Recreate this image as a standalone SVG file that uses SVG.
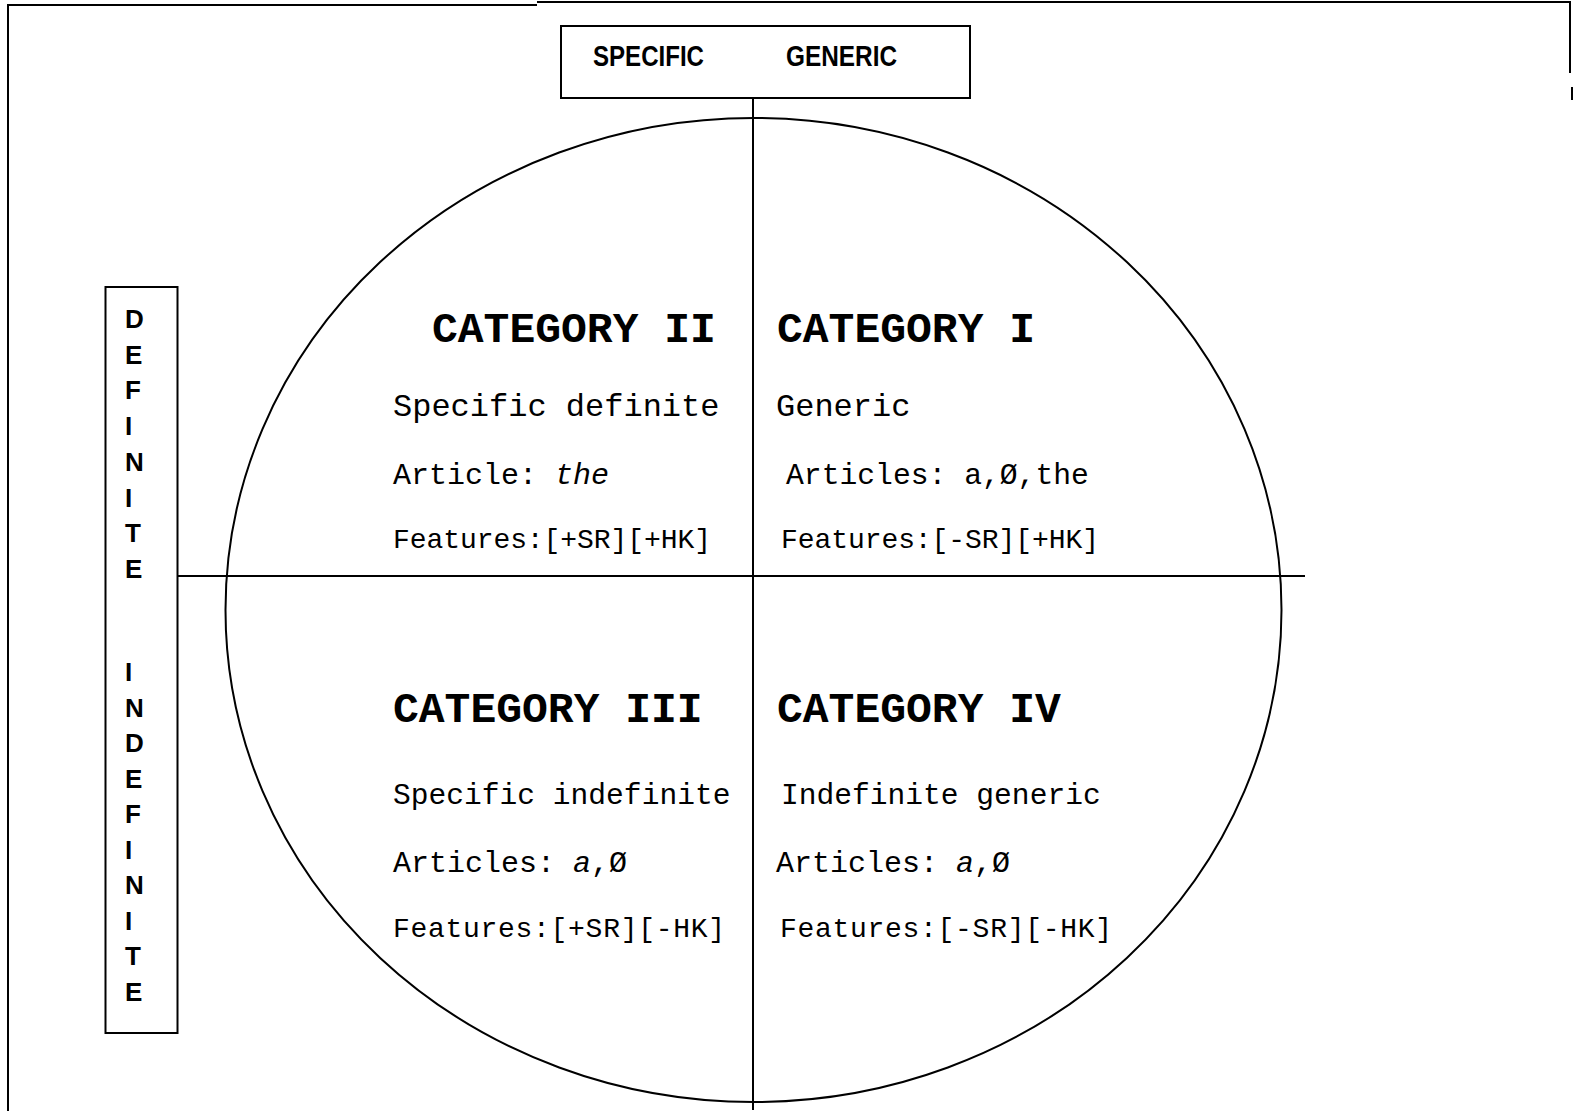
<svg xmlns="http://www.w3.org/2000/svg" width="1574" height="1111" viewBox="0 0 1574 1111">
<style>
.ln{stroke:#000;stroke-width:2;fill:none}
.box{stroke:#000;stroke-width:2;fill:#fff}
.sans{font-family:"Liberation Sans",Arial,sans-serif;font-weight:bold;fill:#000}
.cat{font-family:"Liberation Mono","Courier New",monospace;font-weight:bold;font-size:43px;fill:#000}
.mono{font-family:"Liberation Mono","Courier New",monospace;fill:#000}
.it{font-style:italic}
</style>
<rect width="1574" height="1111" fill="#fff"/>
<g id="frame">
<polyline class="ln" points="8,1111 8,5 537,5"/>
<polyline class="ln" points="537,2 1570,2 1570,73"/>
<line class="ln" x1="1572" y1="87" x2="1572" y2="100"/>
</g>
<g id="connectors">
<ellipse class="ln" cx="753.5" cy="610" rx="528" ry="492"/>
<line class="ln" x1="753" y1="98" x2="753" y2="1110"/>
<line class="ln" x1="178" y1="576" x2="1305" y2="576"/>
</g>
<g id="node-specific-generic">
<rect class="box" x="561" y="26" width="409" height="72"/>
<text class="sans" x="593" y="66" font-size="29" textLength="111" lengthAdjust="spacingAndGlyphs">SPECIFIC</text>
<text class="sans" x="786" y="66" font-size="29" textLength="111" lengthAdjust="spacingAndGlyphs">GENERIC</text>
</g>
<g id="node-definite-indefinite">
<rect class="box" x="105.5" y="287" width="72" height="746"/>
<g class="sans" font-size="26">
<text x="125" y="328">D</text>
<text x="125" y="363.7">E</text>
<text x="125" y="399.4">F</text>
<text x="125" y="435">I</text>
<text x="125" y="470.8">N</text>
<text x="125" y="506.5">I</text>
<text x="125" y="542">T</text>
<text x="125" y="578">E</text>
<text x="125" y="681">I</text>
<text x="125" y="716.5">N</text>
<text x="125" y="752">D</text>
<text x="125" y="787.5">E</text>
<text x="125" y="823">F</text>
<text x="125" y="858.5">I</text>
<text x="125" y="894">N</text>
<text x="125" y="929.5">I</text>
<text x="125" y="965">T</text>
<text x="125" y="1000.5">E</text>
</g>
</g>
<g id="node-category-ii">
<text class="cat" x="432" y="342">CATEGORY II</text>
<text class="mono" x="393" y="416" font-size="32">Specific definite</text>
<text class="mono" x="393" y="484" font-size="30">Article: <tspan class="it">the</tspan></text>
<text class="mono" x="393" y="548" font-size="28" textLength="318">Features:[+SR][+HK]</text>
</g>
<g id="node-category-i">
<text class="cat" x="777" y="342">CATEGORY I</text>
<text class="mono" x="776" y="416" font-size="32">Generic</text>
<text class="mono" x="786" y="484" font-size="29.7">Articles: a,Ø,the</text>
<text class="mono" x="781" y="548" font-size="28" textLength="318">Features:[-SR][+HK]</text>
</g>
<g id="node-category-iii">
<text class="cat" x="393" y="722">CATEGORY III</text>
<text class="mono" x="393" y="804" font-size="29.6">Specific indefinite</text>
<text class="mono" x="393" y="872" font-size="30">Articles: <tspan class="it">a</tspan>,Ø</text>
<text class="mono" x="393" y="937" font-size="28" textLength="332">Features:[+SR][-HK]</text>
</g>
<g id="node-category-iv">
<text class="cat" x="777" y="722">CATEGORY IV</text>
<text class="mono" x="781" y="804" font-size="29.6">Indefinite generic</text>
<text class="mono" x="776" y="872" font-size="30">Articles: <tspan class="it">a</tspan>,Ø</text>
<text class="mono" x="780" y="937" font-size="28" textLength="332">Features:[-SR][-HK]</text>
</g>
</svg>
